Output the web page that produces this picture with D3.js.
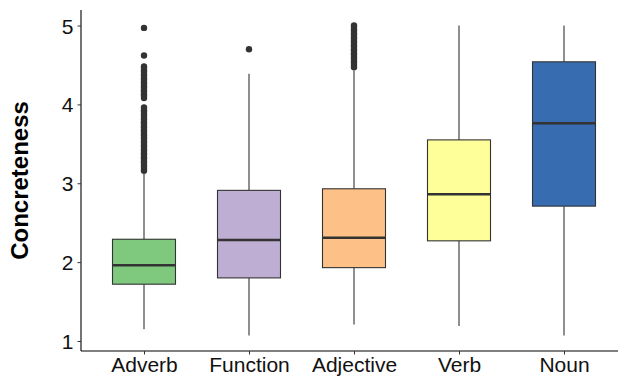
<!DOCTYPE html>
<html>
<head>
<meta charset="utf-8">
<script src="https://cdn.jsdelivr.net/npm/d3@7"></script>
<style>
  html, body { margin: 0; padding: 0; background: #fff; }
  svg { display: block; font-family: "Liberation Sans", Arial, sans-serif; }
</style>
</head>
<body>
<svg id="chart" width="618" height="379"></svg>
<script>
// Word classes and their concreteness summary statistics
const categories = ["Adverb", "Function", "Adjective", "Verb", "Noun"];
const lowerWhisker = [1.15, 1.07, 1.21, 1.19, 1.07];
const q1 = [1.72, 1.80, 1.93, 2.27, 2.71];
const median = [1.96, 2.28, 2.31, 2.86, 3.76];
const q3 = [2.29, 2.91, 2.93, 3.55, 4.54];
const upperWhisker = [3.13, 4.39, 4.43, 5.00, 5.00];

// Points beyond the whiskers
const adverbOutliers = [
  3.16, 3.18, 3.21, 3.23, 3.26, 3.28, 3.31, 3.33, 3.36, 3.38, 3.41, 3.43,
  3.46, 3.48, 3.51, 3.53, 3.56, 3.58, 3.61, 3.63, 3.66, 3.68, 3.71, 3.73,
  3.76, 3.78, 3.81, 3.83, 3.86, 3.88, 3.91, 3.93, 3.96,
  4.08, 4.11, 4.13, 4.16, 4.18, 4.21, 4.23, 4.26, 4.28, 4.31, 4.33, 4.36,
  4.38, 4.41, 4.43, 4.46, 4.48,
  4.62, 4.97
];
const functionOutliers = [4.70];
const adjectiveOutliers = [
  4.47, 4.50, 4.53, 4.55, 4.58, 4.60, 4.63, 4.65, 4.68, 4.70, 4.73, 4.75,
  4.78, 4.80, 4.83, 4.85, 4.88, 4.90, 4.93, 4.95, 4.98, 5.00
];
const verbOutliers = [];
const nounOutliers = [];
const outliers = [adverbOutliers, functionOutliers, adjectiveOutliers, verbOutliers, nounOutliers];

const yTicks = [1, 2, 3, 4, 5];
const yDomain = [0.873, 5.197];
const fills = ["#7fc97f", "#beaed4", "#fdc086", "#ffff99", "#386cb0"];
const yTitle = "Concreteness";

// Layout
const svg = d3.select("#chart");
const plotLeft = 81, plotRight = 627, plotTop = 10, plotBottom = 351;
const boxFrac = 0.6;

const x = d3.scalePoint().domain(categories).range([plotLeft, plotRight]).padding(0.6);
const y = d3.scaleLinear().domain(yDomain).range([plotBottom, plotTop]);
const boxW = x.step() * boxFrac;

const rows = categories.map((c, i) => ({
  cat: c, lo: lowerWhisker[i], q1: q1[i], med: median[i], q3: q3[i], hi: upperWhisker[i],
  out: outliers[i], fill: fills[i]
}));

const g = svg.append("g");
const ink = "#333333";

const box = g.selectAll("g.box").data(rows).join("g").attr("class", "box");

// Whiskers
box.append("line")
  .attr("x1", d => x(d.cat)).attr("x2", d => x(d.cat))
  .attr("y1", d => y(d.q3)).attr("y2", d => y(d.hi))
  .attr("stroke", ink).attr("stroke-width", 1.1);
box.append("line")
  .attr("x1", d => x(d.cat)).attr("x2", d => x(d.cat))
  .attr("y1", d => y(d.q1)).attr("y2", d => y(d.lo))
  .attr("stroke", ink).attr("stroke-width", 1.1);

// Boxes
box.append("rect")
  .attr("x", d => x(d.cat) - boxW / 2)
  .attr("width", boxW)
  .attr("y", d => y(d.q3))
  .attr("height", d => y(d.q1) - y(d.q3))
  .attr("fill", d => d.fill)
  .attr("stroke", ink).attr("stroke-width", 1.1);

// Medians
box.append("line")
  .attr("x1", d => x(d.cat) - boxW / 2).attr("x2", d => x(d.cat) + boxW / 2)
  .attr("y1", d => y(d.med)).attr("y2", d => y(d.med))
  .attr("stroke", ink).attr("stroke-width", 2.4);

// Outliers
box.selectAll("circle").data(d => d.out.map(v => ({ cat: d.cat, v })))
  .join("circle")
  .attr("cx", p => x(p.cat)).attr("cy", p => y(p.v))
  .attr("r", 3.2).attr("fill", ink);

// Axes
const yAxis = d3.axisLeft(y).tickValues(yTicks).tickFormat(d3.format("d")).tickSize(3.5).tickPadding(4);
const ya = svg.append("g").attr("transform", `translate(${plotLeft},0)`).call(yAxis);
ya.select(".domain").attr("d", `M0,${plotTop}V${plotBottom}`).attr("stroke", "#000").attr("stroke-width", 1.1);
ya.selectAll(".tick line").attr("stroke", "#333");
ya.selectAll(".tick text").attr("font-size", 21).attr("fill", "#111").attr("dy", "0.36em")
  .attr("font-family", "Liberation Sans, Arial, sans-serif");

const xAxis = d3.axisBottom(x).tickSize(3.5).tickPadding(3);
const xa = svg.append("g").attr("transform", `translate(0,${plotBottom})`).call(xAxis);
xa.select(".domain").attr("d", `M${plotLeft},0H${plotRight}`).attr("stroke", "#000").attr("stroke-width", 1.1);
xa.selectAll(".tick line").attr("stroke", "#333");
xa.selectAll(".tick text").attr("font-size", 21).attr("fill", "#111")
  .attr("font-family", "Liberation Sans, Arial, sans-serif");

// Y axis title
svg.append("text")
  .attr("transform", `translate(19,${(plotTop + plotBottom) / 2}) rotate(-90)`)
  .attr("text-anchor", "middle")
  .attr("dy", "0.36em")
  .attr("font-size", 24)
  .attr("font-weight", "bold")
  .attr("fill", "#000")
  .text(yTitle);
</script>
</body>
</html>
